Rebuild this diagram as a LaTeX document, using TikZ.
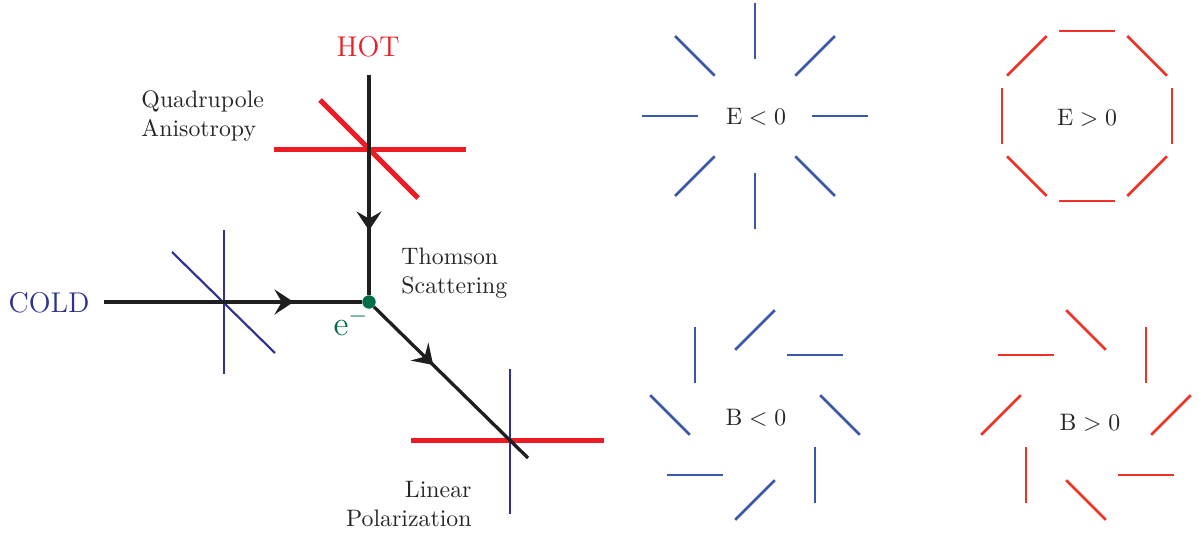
\documentclass[tikz,border=0pt]{standalone}
\usepackage{tikz}
\usetikzlibrary{arrows.meta,calc,decorations.markings}

\definecolor{hotred}{RGB}{237,28,36}
\definecolor{coldblue}{RGB}{46,49,146}
\definecolor{egreen}{RGB}{0,110,75}
\definecolor{patblue}{RGB}{58,88,170}
\definecolor{patred}{RGB}{238,50,38}

\tikzset{
  ray/.style={line width=1.4pt, black!88},
  flowarrow/.style={postaction={decorate},
    decoration={markings, mark=at position #1 with {\arrow{Stealth[length=8pt,width=10.5pt,inset=3pt]}}}},
  hotbar/.style={hotred, line width=2.1pt},
  coldbar/.style={coldblue, line width=0.9pt},
  patline/.style={line width=1.15pt},
  txt/.style={inner sep=0pt, text=black!85},
}

\begin{document}
\begin{tikzpicture}[x=0.42pt, y=-0.42pt]
\useasboundingbox (0,0) rectangle (1199,534);

\coordinate (hotend) at (369,75);
\coordinate (coldend) at (104,302);
\coordinate (outend) at (528,458);
\node[circle, fill=egreen, inner sep=0pt, minimum size=5.5pt] (e) at (369,302) {};

\draw[hotbar] (274,150) -- (466,150);
\draw[hotbar] (320,100) -- (418,198);
\draw[coldbar] (224,230) -- (224,374);
\draw[coldbar] (172,252) -- (275,353);
\draw[hotbar] (411,440) -- (604,440);
\draw[coldbar] (510,369) -- (510,514);

\draw[ray, flowarrow=0.707] (hotend) -- (e);
\draw[ray, flowarrow=0.735] (coldend) -- (e);
\draw[ray, flowarrow=0.385] (e) -- (outend);
\node[circle, fill=egreen, inner sep=0pt, minimum size=5.5pt] at (e) {};

\node[hotred, font=\large, inner sep=0pt] (hot) at (368,47) {HOT};
\node[coldblue, font=\large, inner sep=0pt] (cold) at (49,303) {COLD};
\node[egreen, font=\Large, inner sep=0pt] (elabel) at (351,322) {$\mathrm{e}^-$};
\node[txt, align=left, anchor=west] (quad) at (141,116) {Quadrupole\\Anisotropy};
\node[txt, align=left, anchor=west] (thom) at (401,273) {Thomson\\Scattering};
\node[txt, align=right, anchor=east] (linpol) at (472,504) {Linear\\Polarization};

\coordinate (Eneg) at (755,116);
\coordinate (Epos) at (1087,116);
\coordinate (Bneg) at (755,415);
\coordinate (Bpos) at (1086,415);

\foreach \a in {0,45,...,315} {
  \draw[patline, patblue] ($(Eneg)+(\a:57)$) -- ($(Eneg)+(\a:113)$);
  \draw[patline, patred] ($(Epos)+(\a:85)+(\a+90:28)$) -- ($(Epos)+(\a:85)+(\a-90:28)$);
  \draw[patline, patblue] ($(Bneg)+(\a:85)+(\a+45:28)$) -- ($(Bneg)+(\a:85)+(\a-135:28)$);
  \draw[patline, patred] ($(Bpos)+(\a:85)+(\a-45:28)$) -- ($(Bpos)+(\a:85)+(\a+135:28)$);
}

\node[txt] (Eneglabel) at (756,117) {$\mathrm{E}<0$};
\node[txt] (Eposlabel) at (1087,118) {$\mathrm{E}>0$};
\node[txt] (Bneglabel) at (756,418) {$\mathrm{B}<0$};
\node[txt] (Bposlabel) at (1090,423) {$\mathrm{B}>0$};
\end{tikzpicture}
\end{document}
